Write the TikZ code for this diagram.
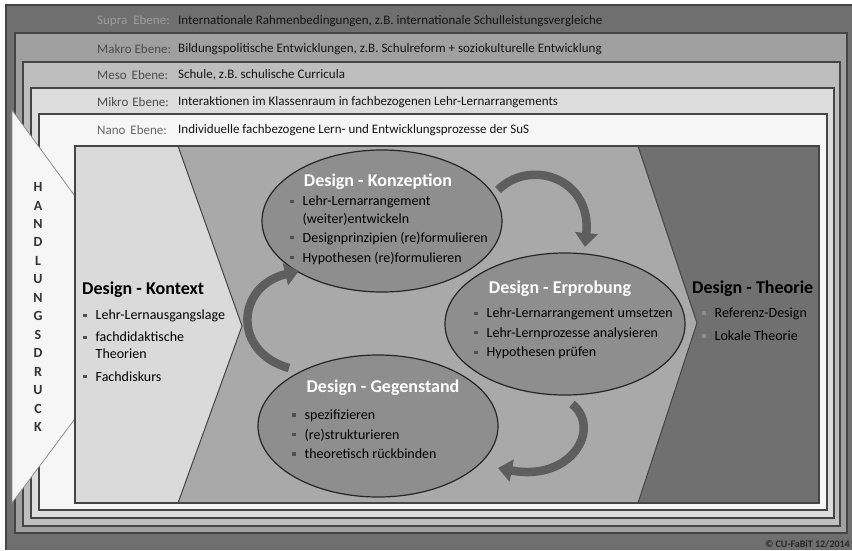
\documentclass[tikz,border=0pt]{standalone}
\usepackage{fontspec}
\setmainfont{Carlito}
\usetikzlibrary{positioning,shapes.geometric,arrows.meta}

\definecolor{supra}{HTML}{6F6F6F}
\definecolor{makro}{HTML}{A0A0A0}
\definecolor{meso}{HTML}{BEBEBE}
\definecolor{mikro}{HTML}{DDDDDD}
\definecolor{nano}{HTML}{F6F6F6}
\definecolor{rahmen}{HTML}{454545}
\definecolor{kontext}{HTML}{DADADA}
\definecolor{mitte}{HTML}{A9A9A9}
\definecolor{theorie}{HTML}{707070}
\definecolor{ellfill}{HTML}{8E8E8E}
\definecolor{arrgray}{HTML}{5E5E5E}
\definecolor{pktcol}{HTML}{505050}

\newcommand{\pkt}[1][pktcol]{\makebox[12.5pt][l]{\textcolor{#1}{\rule[3pt]{3.4pt}{3.4pt}}}}
\newcommand{\ein}{\hspace*{12.5pt}}

\begin{document}
\begin{tikzpicture}[x=1pt, y=-1pt,
    lvl/.style = {draw=rahmen, line width=1.2pt},
    lbl/.style = {anchor=west, inner sep=0pt, font=\fontsize{13}{15}\selectfont, text=black!70},
    desc/.style = {anchor=west, inner sep=0pt, font=\fontsize{13}{15}\selectfont, text=black!92},
    phase/.style = {draw=black!85, line width=1.2pt, ellipse, fill=ellfill,
                    minimum width=240pt, minimum height=142pt},
    ptitle/.style = {font=\fontsize{18}{20}\selectfont\bfseries, text=white},
    btitle/.style = {anchor=west, inner sep=0pt, font=\fontsize{18}{20}\selectfont\bfseries, text=black},
    plist/.style = {anchor=north west, align=left, inner sep=0pt, font=\fontsize{14}{17.5}\selectfont},
    klist/.style = {plist, font=\fontsize{14}{16.5}\selectfont},
    cyc/.style = {draw=arrgray, line width=8.5pt, -{Triangle[length=14pt,width=22pt]}},
    hdl/.style = {font=\fontsize{14}{14}\selectfont\bfseries, text=black!80, inner sep=0pt}]

\useasboundingbox (0,0) rectangle (852,550);

% Ebenen
\fill[white] (0,0) rectangle (852,550);
\fill[supra] (6,5) rectangle (852,550);
\draw[lvl] (6,550) -- (6,5) -- (852,5);
\draw[lvl, fill=makro] (15,33) rectangle (847,533);
\draw[lvl, fill=meso] (23,62) rectangle (840,526);
\draw[lvl, fill=mikro] (31,88) rectangle (834,518);
\draw[lvl, fill=nano] (39,114) rectangle (827,510);

\node[lbl, text=black!38] (supL) at (97,21) {Supra\hspace{6pt}Ebene:};
\node[desc] (supT) at (178,21) {Internationale Rahmenbedingungen, z.B. internationale Schulleistungsvergleiche};
\node[lbl] (makL) at (97,49) {Makro\hspace{3pt}Ebene:};
\node[desc] (makT) at (178,49) {Bildungspolitische Entwicklungen, z.B. Schulreform + soziokulturelle Entwicklung};
\node[lbl] (mesL) at (97,75) {Meso\hspace{5pt}Ebene:};
\node[desc] (mesT) at (178,75) {Schule, z.B. schulische Curricula};
\node[lbl] (mikL) at (97,102) {Mikro\hspace{4pt}Ebene:};
\node[desc] (mikT) at (178,102) {Interaktionen im Klassenraum in fachbezogenen Lehr-Lernarrangements};
\node[lbl, text=black!60] (nanL) at (97,130) {Nano\hspace{5pt}Ebene:};
\node[desc] (nanT) at (178,130) {Individuelle fachbezogene Lern- und Entwicklungsprozesse der SuS};

% Handlungsdruck
\draw[draw=black!45, line width=0.8pt, fill=nano] (12,110) -- (80,203) -- (80,412) -- (12,503) -- cycle;
\foreach \ch [count=\i] in {H,A,N,D,L,U,N,G,S,D,R,U,C,K}
  \node[hdl] (hd\i) at (38,{187+18.46*(\i-1)}) {\ch};

% Innenfeld
\fill[kontext] (75,146) -- (178,146) -- (242,326) -- (178,503) -- (75,503) -- cycle;
\fill[mitte] (178,146) -- (638,146) -- (697,323) -- (638,503) -- (178,503) -- (242,326) -- cycle;
\fill[theorie] (638,146) -- (819,146) -- (819,503) -- (638,503) -- (697,323) -- cycle;
\draw[rahmen, line width=1pt] (178,146) -- (242,326) -- (178,503);
\draw[rahmen, line width=1pt] (638,146) -- (697,323) -- (638,503);
\draw[lvl] (75,146) rectangle (819,503);

\node[btitle] (kontT) at (82,290) {Design - Kontext};
\node[klist] (kontL) at (83,310) {\pkt Lehr-Lernausgangslage\\[5.5pt]
  \pkt fachdidaktische\\ \ein Theorien\\[6.5pt] \pkt Fachdiskurs};
\node[btitle] (theoT) at (692,289) {Design - Theorie};
\node[klist] (theoL) at (702,308) {\pkt[black!45]Referenz-Design\\[6.5pt] \pkt[black!45]Lokale Theorie};

% Phasen
\node[phase] (konz) at (382,221) {};
\node[phase] (erpr) at (565,324) {};
\node[phase] (gege) at (378,426) {};

\node[ptitle] (konzT) at (378,182) {Design - Konzeption};
\node[plist] (konzL) at (290,196) {\pkt Lehr-Lernarrangement\\ \ein(weiter)entwickeln\\[1.5pt]
  \pkt Designprinzipien (re)formulieren\\[2.5pt] \pkt Hypothesen (re)formulieren};
\node[ptitle] (erprT) at (560,289) {Design - Erprobung};
\node[plist] (erprL) at (474,308) {\pkt Lehr-Lernarrangement umsetzen\\[2pt]
  \pkt Lehr-Lernprozesse analysieren\\[2pt] \pkt Hypothesen prüfen};
\node[ptitle] (gegeT) at (383,388) {Design - Gegenstand};
\node[plist] (gegeL) at (292,410) {\pkt spezifizieren\\[2pt]
  \pkt (re)strukturieren\\[2pt] \pkt theoretisch rückbinden};

% Zyklus
\coordinate (c1a) at (498,190);
\coordinate (c1b) at (585,247);
\coordinate (c2a) at (572,404);
\coordinate (c2b) at (498,468);
\coordinate (c3a) at (289,368);
\coordinate (c3b) at (299,271);
\draw[cyc] (c1a) .. controls (530,158) and (592,178) .. (c1b);
\draw[cyc] (c2a) .. controls (602,428) and (572,482) .. (c2b);
\draw[cyc] (c3a) .. controls (232,352) and (236,286) .. (c3b);

\node[anchor=east, inner sep=1pt, font=\fontsize{10}{11}\selectfont\bfseries, text=black!85] (copy) at (851,544) {© CU-FaBiT 12/2014};
\end{tikzpicture}
\end{document}
